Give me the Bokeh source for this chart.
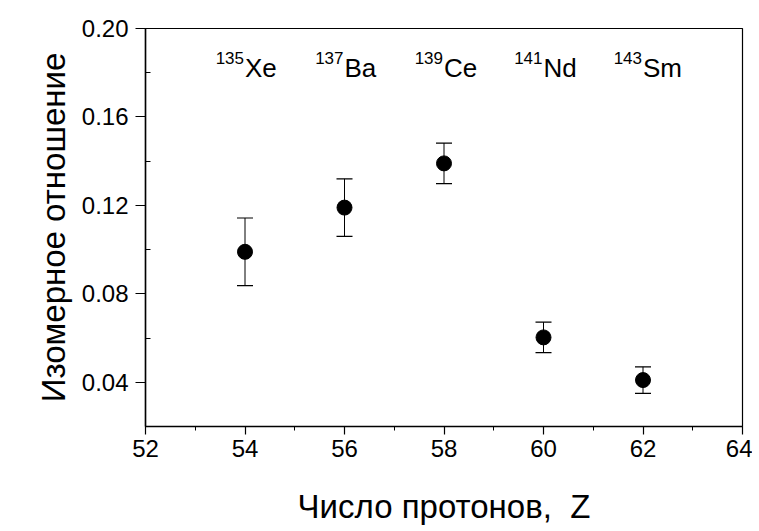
from bokeh.plotting import figure
from bokeh.models import ColumnDataSource, Whisker, TeeHead, FixedTicker, PrintfTickFormatter, Range1d
from bokeh.core.properties import value
from bokeh.embed import file_html
from bokeh.resources import INLINE

# Data
z = [54, 56, 58, 60, 62]
ratio = [0.099, 0.119, 0.139, 0.0603, 0.041]
err = [0.0153, 0.0130, 0.0092, 0.0069, 0.0060]
mass = ["135", "137", "139", "141", "143"]
element = ["Xe", "Ba", "Ce", "Nd", "Sm"]
label_level = 0.182
x_ticks = [52, 54, 56, 58, 60, 62, 64]
x_minor = [53, 55, 57, 59, 61, 63]
y_ticks = [0.04, 0.08, 0.12, 0.16, 0.20]
y_minor = [0.02, 0.06, 0.10, 0.14, 0.18]

FONT = "Liberation Sans"

src = ColumnDataSource(dict(
    z=z, r=ratio,
    upper=[r + e for r, e in zip(ratio, err)],
    lower=[r - e for r, e in zip(ratio, err)],
    mass=mass, element=element, ly=[label_level] * len(z),
))

p = figure(frame_width=597, frame_height=398, output_backend="svg", toolbar_location=None,
           x_range=Range1d(52, 64), y_range=Range1d(0.02, 0.20),
           min_border_left=145, min_border_right=10, min_border_top=28, min_border_bottom=95)
p.background_fill_color = "white"
p.border_fill_color = "white"
p.outline_line_color = "black"
p.outline_line_width = 1.2
p.xgrid.visible = False
p.ygrid.visible = False

w = Whisker(source=src, base="z", upper="upper", lower="lower", line_color="black", line_width=1,
            upper_head=TeeHead(size=16, line_color="black", line_width=1.2),
            lower_head=TeeHead(size=16, line_color="black", line_width=1.2))
p.add_layout(w)
p.scatter("z", "r", source=src, size=15, color="black")

p.text("z", "ly", text="element", source=src, text_align="left", text_baseline="alphabetic",
       text_font=value(FONT), text_font_size="26px", text_color="black", x_offset=0)
p.text("z", "ly", text="mass", source=src, text_align="right", text_baseline="alphabetic",
       text_font=value(FONT), text_font_size="17px", text_color="black", x_offset=-1, y_offset=-10)

for ax in (p.xaxis[0], p.yaxis[0]):
    ax.axis_line_width = 1.5
    ax.axis_line_color = "black"
    ax.major_tick_line_color = "black"
    ax.minor_tick_line_color = "black"
    ax.major_tick_line_width = 1.2
    ax.minor_tick_line_width = 1
    ax.major_label_text_font = FONT
    ax.major_label_text_font_size = "24px"
    ax.major_label_text_color = "black"
    ax.axis_label_text_font = FONT
    ax.axis_label_text_font_style = "normal"
    ax.axis_label_text_color = "black"

p.xaxis.ticker = FixedTicker(ticks=x_ticks, minor_ticks=x_minor)
p.yaxis.ticker = FixedTicker(ticks=y_ticks, minor_ticks=y_minor)
p.yaxis.formatter = PrintfTickFormatter(format="%.2f")

p.xaxis.major_tick_in = 0
p.xaxis.major_tick_out = 8
p.xaxis.minor_tick_in = 0
p.xaxis.minor_tick_out = 4
p.xaxis.major_label_standoff = 5
p.xaxis.axis_label = "Число протонов,\u00a0 Z"
p.xaxis.axis_label_text_font_size = "33px"
p.xaxis.axis_label_standoff = 28

yax = p.yaxis[0]
yax.major_tick_in = 0
yax.major_tick_out = 10
yax.minor_tick_in = 5
yax.minor_tick_out = 0
yax.major_label_standoff = 7
yax.axis_label = "Изомерное отношение"
yax.axis_label_text_font_size = "33px"
yax.axis_label_standoff = 7

open("out.html", "w").write(file_html(p, INLINE))
